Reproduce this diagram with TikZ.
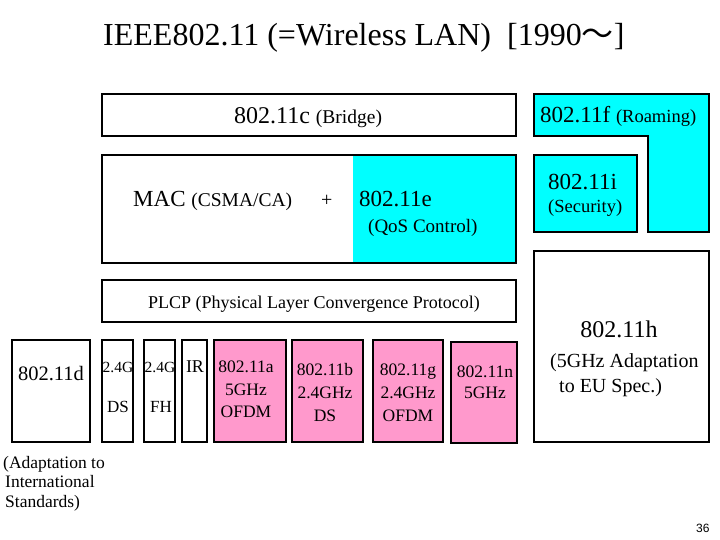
\documentclass[tikz,border=0pt]{standalone}
\usepackage{fontspec}
\setmainfont{Liberation Serif}
\newfontfamily\cjk{Noto Sans CJK JP}
\newfontfamily\sansf{Liberation Sans}
\definecolor{qcyan}{HTML}{00FFFF}
\definecolor{qpink}{HTML}{FF99CC}
\newcommand{\fs}[1]{\fontsize{#1}{#1}\selectfont}
\begin{document}
\begin{tikzpicture}[x=1pt,y=-1pt,
  boxline/.style={draw=black,line width=1.1pt},
  cyanbox/.style={boxline,fill=qcyan},
  pinkbox/.style={boxline,fill=qpink},
  txt/.style={inner sep=0pt,anchor=base west},
  ctxt/.style={inner sep=0pt,anchor=base,align=center}]
\useasboundingbox (0,0) rectangle (720,540);
% title
\node[txt] (title) at (103,46) {\fs{32}IEEE802.11 (=Wireless LAN)\ \ [1990{\cjk ～}]};
% 802.11c
\draw[boxline] (102,94) rectangle (516,136);
\node[txt] (c) at (234,124) {\fs{24}802.11c \fs{19.5}(Bridge)};
% MAC + 802.11e
\fill[qcyan] (353,155) rectangle (516,263);
\draw[boxline] (102,155) rectangle (516,263);
\node[txt] (mac) at (133,207) {\fs{23}MAC \fs{19.5}(CSMA/CA)};
\node[txt] (plus) at (321,207) {\fs{20}+};
\node[txt] (e) at (359,207) {\fs{23}802.11e};
\node[txt] (eq) at (368,233) {\fs{19}(QoS Control)};
% 802.11f L shape
\draw[cyanbox] (534,94) -- (709,94) -- (709,232) -- (648,232) -- (648,136) -- (534,136) -- cycle;
\node[txt] (f) at (540,123) {\fs{23}802.11f \fs{18.5}(Roaming)};
% 802.11i
\draw[cyanbox] (534,155) rectangle (637,232);
\node[txt] (i) at (548,190) {\fs{23}802.11i};
\node[txt] (is) at (548,213) {\fs{18.5}(Security)};
% PLCP
\draw[boxline] (102,280) rectangle (516,322);
\node[txt] (plcp) at (148,308) {\fs{18}PLCP (Physical Layer Convergence Protocol)};
% 802.11h
\draw[boxline] (534,251) rectangle (709,442);
\node[ctxt] (h) at (619,337) {\fs{24}802.11h};
\node[txt] (h1) at (550,367) {\fs{20}(5GHz Adaptation};
\node[txt] (h2) at (559,392) {\fs{20}to EU Spec.)};
% 802.11d
\draw[boxline] (12,340) rectangle (90,442);
\node[ctxt] (d) at (51,380) {\fs{20.5}802.11d};
\node[txt] (d1) at (3,468) {\fs{17.5}(Adaptation to};
\node[txt] (d2) at (5,487) {\fs{17.5}International};
\node[txt] (d3) at (5,507) {\fs{17.5}Standards)};
% DS, FH, IR
\draw[boxline] (102,340) rectangle (133,442);
\node[txt] (ds1) at (102.5,372) {\fs{15.5}2.4G};
\node[ctxt] (ds2) at (118,412) {\fs{17}DS};
\draw[boxline] (144,340) rectangle (175,442);
\node[txt] (fh1) at (144.5,372) {\fs{15.5}2.4G};
\node[ctxt] (fh2) at (161,412) {\fs{17}FH};
\draw[boxline] (182,340) rectangle (207,442);
\node[ctxt] (ir) at (195,372) {\fs{18}IR};
% pink boxes
\draw[pinkbox] (214,340) rectangle (286,442);
\node[ctxt] (a1) at (246,372) {\fs{17.5}802.11a};
\node[ctxt] (a2) at (246,395) {\fs{17.5}5GHz};
\node[ctxt] (a3) at (246,417) {\fs{17.5}OFDM};
\draw[pinkbox] (292,340) rectangle (363,442);
\node[ctxt] (b1) at (325,375) {\fs{17.5}802.11b};
\node[ctxt] (b2) at (325,398) {\fs{17.5}2.4GHz};
\node[ctxt] (b3) at (325,421) {\fs{17.5}DS};
\draw[pinkbox] (373,340) rectangle (443,442);
\node[ctxt] (g1) at (408,375) {\fs{17.5}802.11g};
\node[ctxt] (g2) at (408,398) {\fs{17.5}2.4GHz};
\node[ctxt] (g3) at (408,421) {\fs{17.5}OFDM};
\draw[pinkbox] (451,342) rectangle (517,443);
\node[ctxt] (n1) at (485,377) {\fs{17.5}802.11n};
\node[ctxt] (n2) at (485,398) {\fs{17.5}5GHz};
% page number
\node[txt] (pg) at (696,532) {\sansf\fs{12}36};
\end{tikzpicture}
\end{document}
